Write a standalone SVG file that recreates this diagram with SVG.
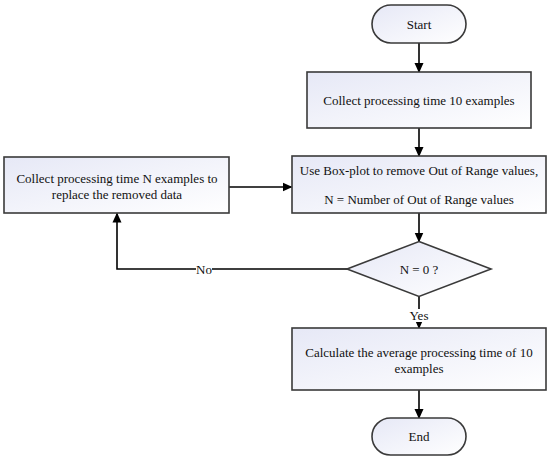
<svg xmlns="http://www.w3.org/2000/svg" width="550" height="461" viewBox="0 0 550 461">
<style>
.n{stroke:#3a3a3a;stroke-width:1.6;fill:url(#g)}
.t{font-family:"Liberation Serif","Times New Roman",serif;font-size:13px;fill:#111;text-anchor:middle}
.c{stroke:#000;stroke-width:1.6;fill:none}
.lb{fill:#fff}
</style>
<defs>
<linearGradient id="g" x1="0" y1="0" x2="1" y2="1">
<stop offset="0" stop-color="#e6e8f6"/>
<stop offset="1" stop-color="#ffffff"/>
</linearGradient>
<marker id="a" markerWidth="10" markerHeight="10" refX="9" refY="5" orient="auto" markerUnits="userSpaceOnUse">
<path d="M0,0.5 L10,5 L0,9.5 Z" fill="#000"/>
</marker>
</defs>
<g id="connectors">
<line class="c" x1="419" y1="43" x2="419" y2="72" marker-end="url(#a)"/>
<line class="c" x1="419" y1="128" x2="419" y2="156" marker-end="url(#a)"/>
<line class="c" x1="419" y1="213" x2="419" y2="241.5" marker-end="url(#a)"/>
<line class="c" x1="229" y1="187" x2="291.5" y2="187" marker-end="url(#a)"/>
<polyline class="c" points="347,269 117,269 117,213.5" marker-end="url(#a)"/>
<rect class="lb" x="196" y="262" width="16" height="14"/>
<text class="t" x="204" y="274">No</text>
<line class="c" x1="419" y1="296.5" x2="419" y2="328" marker-end="url(#a)"/>
<rect class="lb" x="408" y="309" width="22" height="13"/>
<text class="t" x="419" y="320">Yes</text>
<line class="c" x1="419" y1="390" x2="419" y2="418" marker-end="url(#a)"/>
</g>
<g id="start">
<rect class="n" x="372" y="5" width="94" height="38" rx="19" ry="19"/>
<text class="t" x="419" y="28.5">Start</text>
</g>
<g id="collect10">
<rect class="n" x="307" y="72" width="224" height="56"/>
<text class="t" x="419" y="104.5">Collect processing time 10 examples</text>
</g>
<g id="boxplot">
<rect class="n" x="292" y="156" width="254" height="57"/>
<text class="t" x="419" y="175">Use Box-plot to remove Out of Range values,</text>
<text class="t" x="419" y="204">N = Number of Out of Range values</text>
</g>
<g id="collectN">
<rect class="n" x="4" y="157" width="225" height="56"/>
<text class="t" x="117" y="183">Collect processing time N examples to</text>
<text class="t" x="117" y="199">replace the removed data</text>
</g>
<g id="decision">
<polygon class="n" points="419,241.5 491,269 419,296.5 347,269"/>
<text class="t" x="419" y="273.5">N = 0 ?</text>
</g>
<g id="average">
<rect class="n" x="292" y="328" width="254" height="62"/>
<text class="t" x="419" y="357">Calculate the average processing time of 10</text>
<text class="t" x="419" y="373">examples</text>
</g>
<g id="end">
<rect class="n" x="372" y="418" width="94" height="37" rx="18.5" ry="18.5"/>
<text class="t" x="419" y="441">End</text>
</g>
</svg>
